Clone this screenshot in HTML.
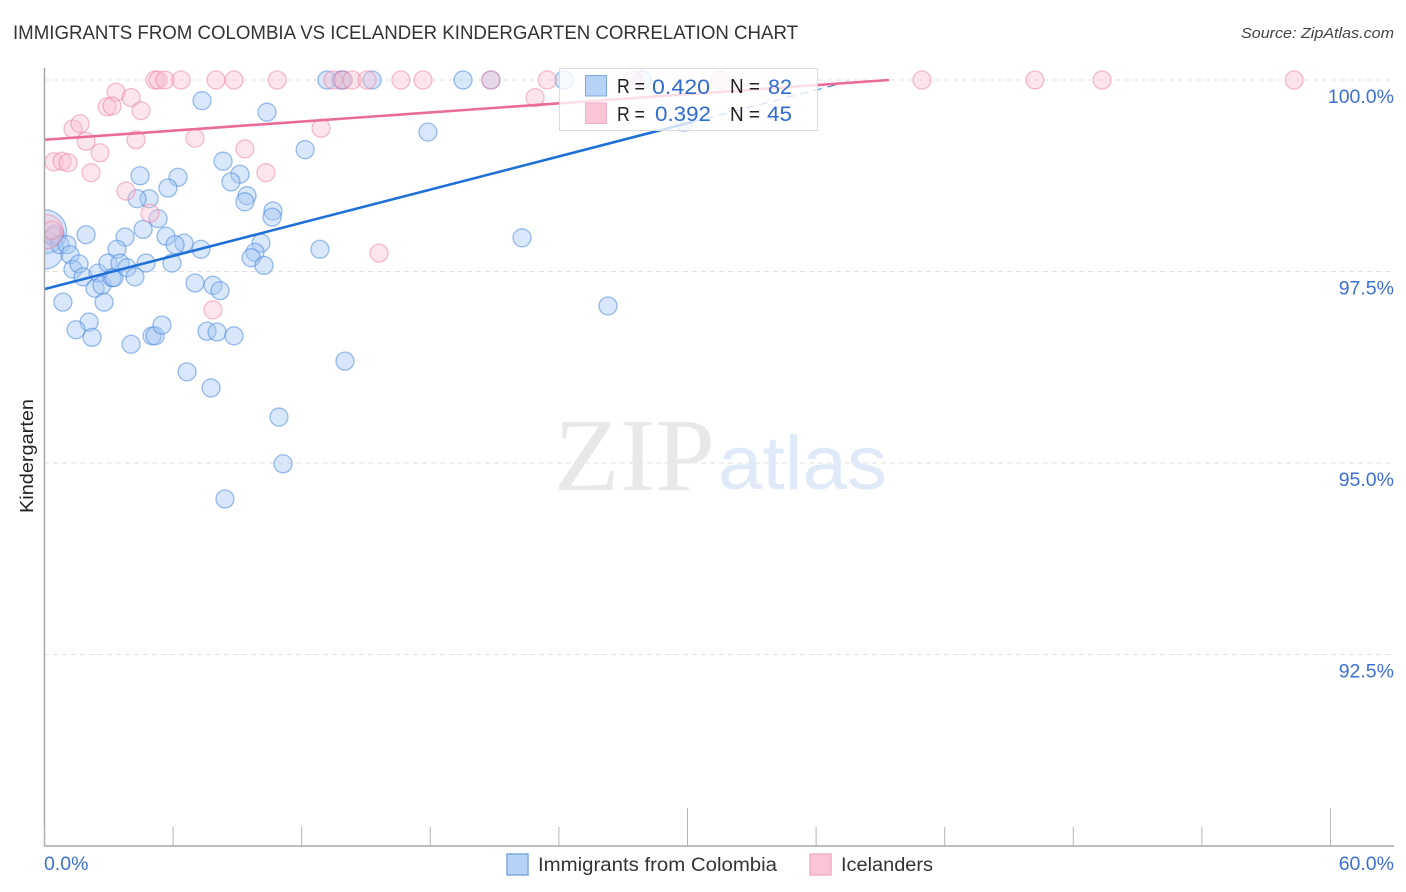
<!DOCTYPE html>
<html lang="en">
<head>
<meta charset="utf-8">
<title>Immigrants from Colombia vs Icelander Kindergarten Correlation Chart</title>
<style>
html,body{margin:0;padding:0;background:#fff;width:1406px;height:892px;overflow:hidden}
svg{display:block;font-family:"Liberation Sans",sans-serif}
</style>
</head>
<body>
<svg id="chart" xmlns="http://www.w3.org/2000/svg" width="1406" height="892" viewBox="0 0 1406 892">
  <defs><clipPath id="plot-clip"><rect x="45" y="60" width="1349" height="786"/></clipPath></defs>
  <rect width="1406" height="892" fill="#fff"/>
  <text x="13" y="39" font-size="19" fill="#333" textLength="785" lengthAdjust="spacingAndGlyphs">IMMIGRANTS FROM COLOMBIA VS ICELANDER KINDERGARTEN CORRELATION CHART</text>
  <text x="1394" y="38" font-size="15" font-style="italic" fill="#444" text-anchor="end" textLength="153" lengthAdjust="spacingAndGlyphs">Source: ZipAtlas.com</text>
  <g id="grid"></g>
  <g>
    <text x="554" y="490" font-family="'Liberation Serif',serif" font-size="104" fill="#e8e8e8" textLength="161" lengthAdjust="spacingAndGlyphs">ZIP</text>
    <text x="718" y="489" font-size="76" fill="#dfe9f8" textLength="169" lengthAdjust="spacingAndGlyphs">atlas</text>
  </g>
  <g id="blue-points" clip-path="url(#plot-clip)"></g>
  <g id="pink-points" clip-path="url(#plot-clip)"></g>
  <g id="trends"></g>
  <g id="axes"></g>
  <g>
    <rect x="559.5" y="68.5" width="258" height="62" fill="#fff" fill-opacity="0.78" stroke="#dcdcdc" stroke-width="1"/>
    <rect x="585.5" y="75.5" width="21" height="20.5" fill="#b7d2f7" stroke="#7ea8e0"/>
    <rect x="585.5" y="103" width="21" height="20.5" fill="#fcc5d6" stroke="#eeb0c4"/>
    <text x="617" y="93" font-size="20" fill="#222" textLength="28" lengthAdjust="spacingAndGlyphs">R =</text>
    <text x="652" y="94" font-size="21" fill="#2f6bd0" textLength="58" lengthAdjust="spacingAndGlyphs">0.420</text>
    <text x="730" y="93" font-size="20" fill="#222" textLength="30" lengthAdjust="spacingAndGlyphs">N =</text>
    <text x="768" y="94" font-size="21" fill="#2f6bd0" textLength="24" lengthAdjust="spacingAndGlyphs">82</text>
    <text x="617" y="121" font-size="20" fill="#222" textLength="28" lengthAdjust="spacingAndGlyphs">R =</text>
    <text x="655" y="121" font-size="21" fill="#2f6bd0" textLength="56" lengthAdjust="spacingAndGlyphs">0.392</text>
    <text x="730" y="121" font-size="20" fill="#222" textLength="30" lengthAdjust="spacingAndGlyphs">N =</text>
    <text x="767" y="121" font-size="21" fill="#2f6bd0" textLength="25" lengthAdjust="spacingAndGlyphs">45</text>
  </g>
  <text transform="translate(33,456) rotate(-90)" font-size="18" fill="#222" text-anchor="middle" textLength="114" lengthAdjust="spacingAndGlyphs">Kindergarten</text>
  <g>
    <rect x="507" y="854" width="21" height="21" fill="#b7d2f7" stroke="#7ea8e0" stroke-width="1.5"/>
    <text x="538" y="871" font-size="19" fill="#333" textLength="239" lengthAdjust="spacingAndGlyphs">Immigrants from Colombia</text>
    <rect x="810" y="854" width="21" height="21" fill="#fcc5d6" stroke="#eeb0c4" stroke-width="1.5"/>
    <text x="841" y="871" font-size="19" fill="#333" textLength="92" lengthAdjust="spacingAndGlyphs">Icelanders</text>
  </g>
</svg>
<script>
const xTicks = [0, 6, 12, 18, 24, 30, 36, 42, 48, 54, 60];
const majorXTicks = [30, 60];
const xEndLabels = ["0.0%", "60.0%"];
const yTicks = [100, 97.5, 95, 92.5];
const yTickLabels = ["100.0%", "97.5%", "95.0%", "92.5%"];

const colombiaX = [13.18,13.83,13.93,15.28,19.53,20.83,24.24,27.88,29.84,7.35,10.38,17.89,12.16,8.33,4.46,6.23,5.76,9.12,8.70,9.45,9.35,4.88,4.32,10.66,10.62,5.30,4.60,1.94,5.67,3.76,6.51,6.09,7.30,3.38,10.10,9.82,9.64,10.24,12.85,22.28,26.29,0.49,0.40,0.72,1.05,1.19,1.33,1.61,1.80,2.50,2.96,2.36,2.68,3.15,3.24,3.52,3.85,4.22,4.74,5.95,7.02,7.86,8.19,0.86,2.78,2.08,1.47,2.22,4.04,5.02,5.16,5.48,7.58,8.05,8.84,6.65,7.77,14.02,10.94,11.13,8.42];
const colombiaY = [100,100,100,100,100,100,100,100,99.45,99.73,99.58,99.32,99.09,98.94,98.75,98.73,98.59,98.77,98.67,98.49,98.41,98.45,98.45,98.29,98.21,98.19,98.05,97.98,97.96,97.95,97.87,97.85,97.79,97.79,97.87,97.75,97.68,97.58,97.79,97.94,97.05,97.99,97.96,97.85,97.85,97.72,97.53,97.60,97.43,97.48,97.61,97.28,97.32,97.42,97.42,97.61,97.55,97.43,97.61,97.61,97.35,97.32,97.25,97.10,97.10,96.84,96.74,96.64,96.55,96.66,96.66,96.80,96.72,96.71,96.66,96.19,95.98,96.33,95.60,94.99,94.53];
const colombiaClusterX = [0, 0];
const colombiaClusterY = [98.02, 97.78];
const colombiaClusterN = [6, 4.5];

const icelanderX = [5.16,5.30,5.62,6.37,8.00,8.84,10.85,13.46,13.93,14.35,15.05,16.63,17.66,20.83,23.45,27.46,31.52,40.94,46.21,49.34,58.30,3.34,4.04,4.50,2.92,3.15,1.33,1.66,1.94,4.27,7.02,12.90,22.89,2.59,9.35,0.44,0.82,1.10,2.17,10.33,3.80,4.92,15.61,7.86,0.35];
const icelanderY = [100,100,100,100,100,100,100,100,100,100,100,100,100,100,100,100,100,100,100,100,100,99.84,99.77,99.60,99.65,99.66,99.36,99.43,99.20,99.22,99.24,99.37,99.77,99.05,99.10,98.93,98.94,98.92,98.79,98.79,98.55,98.26,97.74,97.00,98.04];
const icelanderClusterX = [0.07];
const icelanderClusterY = [98.02];
const icelanderClusterN = [3.6];

const colombiaTrendX = [0, 30.2];
const colombiaTrendY = [97.27, 99.45];
const colombiaExtensionX = [30.2, 37.8];
const colombiaExtensionY = [99.45, 100];
const icelanderTrendX = [0, 39.4];
const icelanderTrendY = [99.22, 100];

const xScale = v => 44.5 + v * 21.433;
const yScale = v => 80 + (100 - v) * 76.6;
const SVG_NS = "http://www.w3.org/2000/svg";

function make(parent, tag, attrs) {
  const el = document.createElementNS(SVG_NS, tag);
  for (const k in attrs) el.setAttribute(k, attrs[k]);
  parent.appendChild(el);
  return el;
}

const grid = document.getElementById("grid");
yTicks.forEach(function (t) {
  const line = make(grid, "line", {x1: 44, x2: 1394, y1: yScale(t), y2: yScale(t), stroke: "#e2e2e2", "stroke-width": 1, "stroke-dasharray": "5 4"});
  
  
});

function drawPoint(group, x, y, r, fill, stroke, fillOp, strokeOp) {
  const c = make(group, "circle", {cx: xScale(x), cy: yScale(y), r: r, fill: fill, "fill-opacity": fillOp, stroke: stroke, "stroke-opacity": strokeOp, "stroke-width": 1.3});
  return c;
}

const bluePts = document.getElementById("blue-points");
colombiaClusterX.forEach(function (x, i) {
  const c = drawPoint(bluePts, x, colombiaClusterY[i], 9 * Math.sqrt(colombiaClusterN[i]), "#a3c6f2", "#4a88de", 0.42, 0.55);
  
  
});
colombiaX.forEach(function (x, i) {
  const c = drawPoint(bluePts, x, colombiaY[i], 9, "#a3c6f2", "#4a88de", 0.42, 0.55);
  
  
});

const pinkPts = document.getElementById("pink-points");
icelanderClusterX.forEach(function (x, i) {
  const c = drawPoint(pinkPts, x, icelanderClusterY[i], 9 * Math.sqrt(icelanderClusterN[i]), "#f9c0d2", "#ec7fa2", 0.42, 0.5);
  
  
});
icelanderX.forEach(function (x, i) {
  const c = drawPoint(pinkPts, x, icelanderY[i], 9, "#f9c0d2", "#ec7fa2", 0.42, 0.5);
  
  
});

const trends = document.getElementById("trends");
const blueExt = make(trends, "line", {x1: xScale(colombiaExtensionX[0]), y1: yScale(colombiaExtensionY[0]), x2: xScale(colombiaExtensionX[1]), y2: yScale(colombiaExtensionY[1]), stroke: "#1f6fd8", "stroke-width": 1, "stroke-dasharray": "8 6"});


const blueLine = make(trends, "line", {x1: xScale(colombiaTrendX[0]), y1: yScale(colombiaTrendY[0]), x2: xScale(colombiaTrendX[1]), y2: yScale(colombiaTrendY[1]), stroke: "#1f6fd8", "stroke-width": 2.6});


const pinkLine = make(trends, "line", {x1: xScale(icelanderTrendX[0]), y1: yScale(icelanderTrendY[0]), x2: xScale(icelanderTrendX[1]), y2: yScale(icelanderTrendY[1]), stroke: "#ea6b98", "stroke-width": 2.6});



const axes = document.getElementById("axes");
const yAxis = make(axes, "line", {x1: 44.5, x2: 44.5, y1: 68, y2: 846, stroke: "#a8a8a8", "stroke-width": 1.5});


const xAxis = make(axes, "line", {x1: 44, x2: 1394, y1: 846, y2: 846, stroke: "#a8a8a8", "stroke-width": 1.5});



xTicks.forEach(function (t) {
  const top = majorXTicks.indexOf(t) >= 0 ? 808 : 827;
  const tick = make(axes, "line", {x1: xScale(t), x2: xScale(t), y1: top, y2: 846, stroke: "#b4b4b4", "stroke-width": 1});
  
  
});

yTicks.forEach(function (t, i) {
  const label = make(axes, "text", {x: 1394, y: yScale(t) + 23, "font-size": 19.5, fill: "#3d70d4", "text-anchor": "end"});
  label.textContent = yTickLabels[i];
  
  
});

const xLabelLeft = make(axes, "text", {x: 44, y: 870, "font-size": 19.5, fill: "#3d70d4"});
xLabelLeft.textContent = xEndLabels[0];


const xLabelRight = make(axes, "text", {x: 1394, y: 870, "font-size": 19.5, fill: "#3d70d4", "text-anchor": "end"});
xLabelRight.textContent = xEndLabels[1];


</script>
</body>
</html>
